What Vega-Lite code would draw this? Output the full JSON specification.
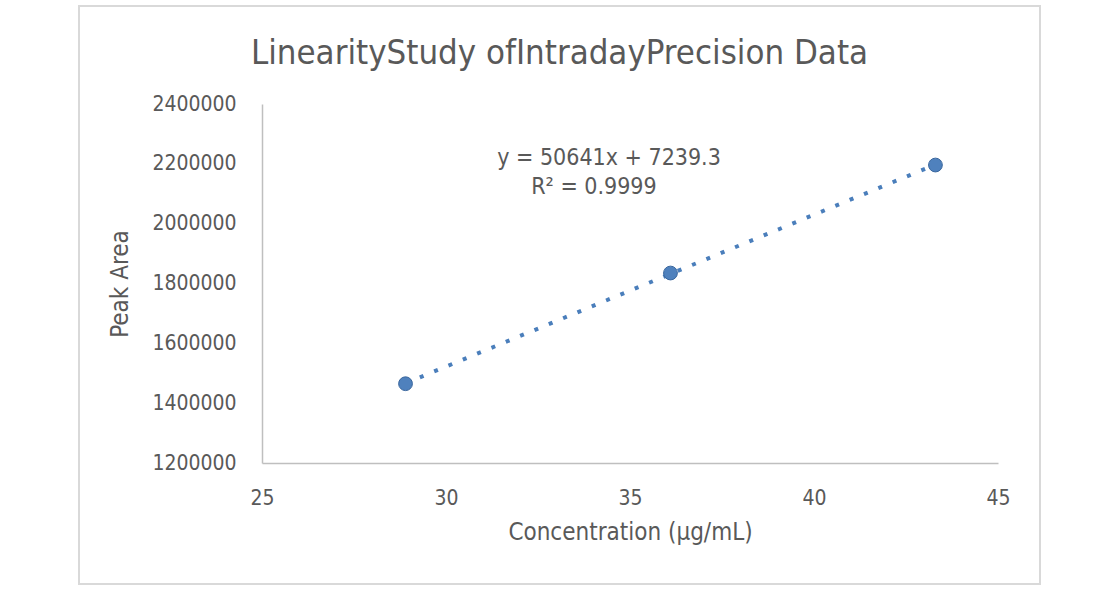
{
  "$schema": "https://vega.github.io/schema/vega-lite/v6.json",
  "autosize": {"type": "none"},
  "width": 961,
  "height": 578,
  "padding": {"left": 79, "top": 6, "right": 66, "bottom": 15},
  "background": "white",
  "config": {
    "view": {"stroke": "#D9D9D9", "strokeWidth": 2},
    "font": "DejaVu Sans Condensed"
  },
  "title": {
    "text": "LinearityStudy ofIntradayPrecision Data",
    "font": "DejaVu Sans Condensed",
    "fontSize": 34.5,
    "fontWeight": "normal",
    "color": "#595959",
    "anchor": "middle",
    "offset": -65
  },
  "data": {
    "values": [
      {"x": 28.9, "y": 1465000},
      {"x": 36.1, "y": 1835000},
      {"x": 43.3, "y": 2196000}
    ]
  },
  "encoding": {
    "x": {
      "field": "x",
      "type": "quantitative",
      "scale": {"domain": [25, 45], "range": [183, 919], "nice": false, "zero": false},
      "axis": {
        "orient": "bottom",
        "offset": -121,
        "values": [25, 30, 35, 40, 45],
        "format": "d",
        "ticks": false,
        "grid": false,
        "labelFlush": false,
        "domainColor": "#BFBFBF",
        "domainWidth": 1.5,
        "labelFontSize": 21,
        "labelColor": "#595959",
        "labelPadding": 24,
        "title": "Concentration (µg/mL)",
        "titleFontSize": 24,
        "titleFontWeight": "normal",
        "titleColor": "#595959",
        "titlePadding": 12
      }
    },
    "y": {
      "field": "y",
      "type": "quantitative",
      "scale": {"domain": [1200000, 2400000], "range": [457, 98], "nice": false, "zero": false},
      "axis": {
        "orient": "left",
        "offset": -183,
        "values": [1200000, 1400000, 1600000, 1800000, 2000000, 2200000, 2400000],
        "format": "d",
        "ticks": false,
        "grid": false,
        "labelFlush": false,
        "domainColor": "#BFBFBF",
        "domainWidth": 1.5,
        "labelFontSize": 21,
        "labelColor": "#595959",
        "labelPadding": 26,
        "title": "Peak Area",
        "titleFontSize": 24,
        "titleFontWeight": "normal",
        "titleColor": "#595959",
        "titlePadding": 19
      }
    }
  },
  "layer": [
    {
      "transform": [{"regression": "y", "on": "x"}],
      "mark": {"type": "line", "strokeDash": [4, 11.5], "strokeWidth": 4, "color": "#4A7EBB", "strokeCap": "butt"}
    },
    {
      "mark": {"type": "point", "filled": true, "size": 190, "fill": "#4F81BD", "stroke": "#3A679E", "strokeWidth": 1, "opacity": 1}
    },
    {
      "data": {
        "values": [
          {"label": "y = 50641x + 7239.3", "x": 34.43, "y": 2219500},
          {"label": "R² = 0.9999", "x": 34.02, "y": 2122600}
        ]
      },
      "mark": {"type": "text", "fontSize": 23, "color": "#595959", "align": "center", "baseline": "middle"},
      "encoding": {"text": {"field": "label", "type": "nominal"}}
    }
  ]
}
